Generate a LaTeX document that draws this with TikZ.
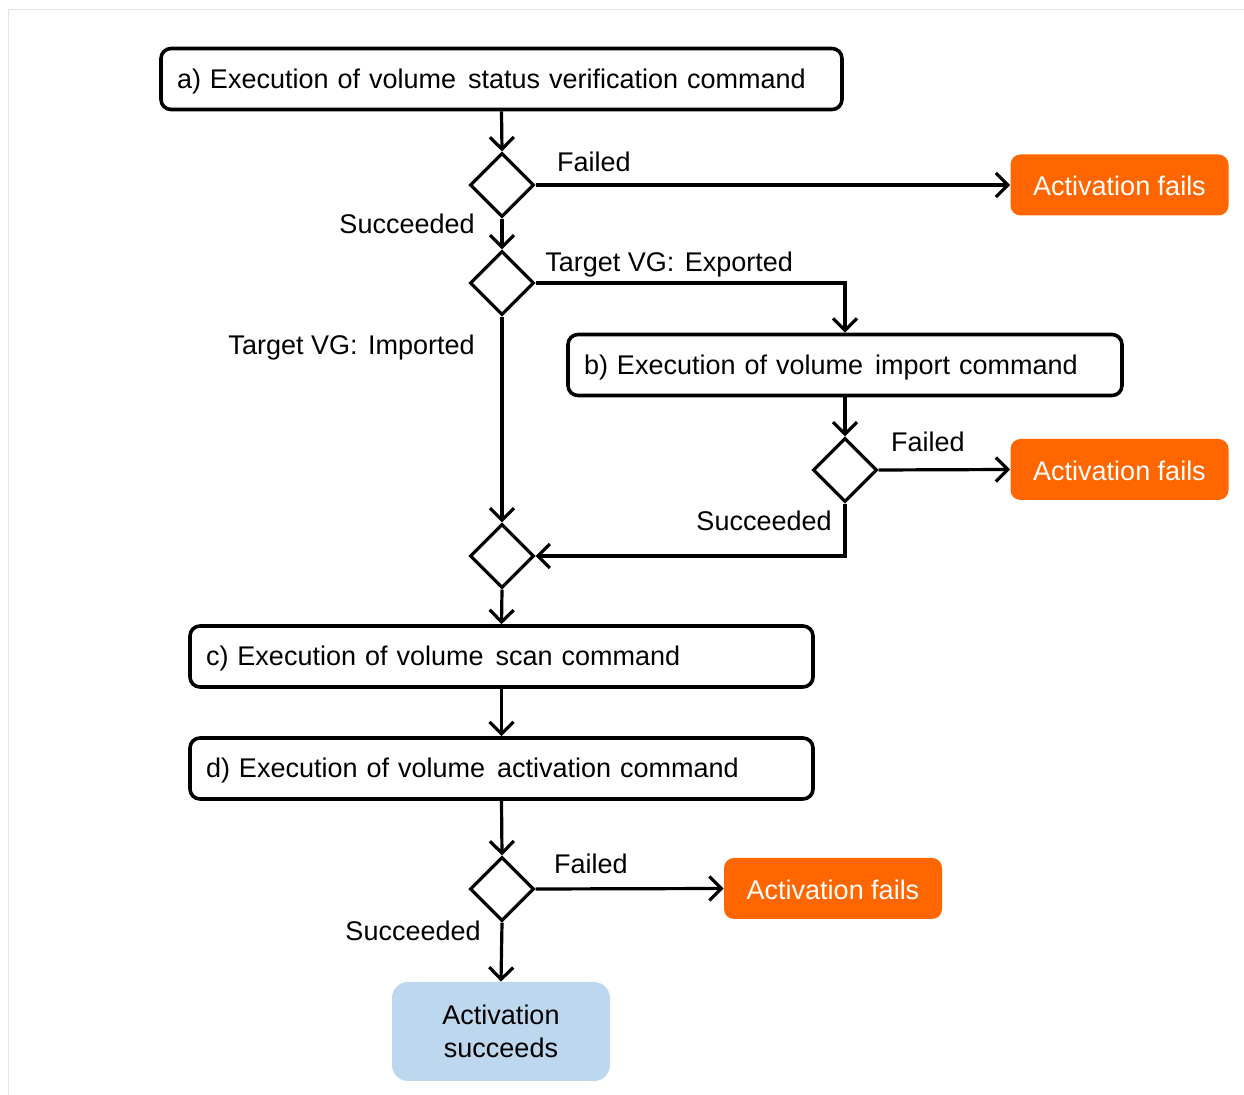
\documentclass[tikz,border=0pt]{standalone}
\usepackage{fontspec}
\setmainfont{Liberation Sans}
\usetikzlibrary{arrows.meta,shapes.geometric}
\definecolor{actfail}{HTML}{FF6600}
\definecolor{actok}{HTML}{BDD7EE}
\definecolor{frame}{HTML}{E3E3E3}
\newcommand{\wsp}{\ \hspace{1.5pt}}
\begin{document}
\begin{tikzpicture}[x=0.5pt,y=-0.5pt,
  every node/.style={font=\fontsize{13.5}{16.5}\selectfont},
  cmd/.style={draw, line width=1.8pt, rounded corners=5pt, minimum height=30.5pt, inner xsep=8pt, inner ysep=0pt, align=left, text height=9.5pt, text depth=0pt},
  dec/.style={draw, diamond, line width=1.6pt, minimum width=32pt, minimum height=32pt, inner sep=0pt, aspect=1},
  fail/.style={fill=actfail, text=white, rounded corners=5pt, minimum width=109pt, minimum height=30.5pt, inner sep=0pt, text height=11pt, text depth=0pt},
  okbox/.style={fill=actok, rounded corners=8pt, minimum width=109pt, minimum height=49.5pt, inner sep=0pt, align=center},
  flow/.style={line width=1.6pt, -{Straight Barb[length=6pt,width=12pt,line width=1.6pt]}},
  lbl/.style={inner sep=0pt}
]
\useasboundingbox (0,0) rectangle (1244,1095);
\draw[frame, line width=0.5pt] (8,1095) -- (8,10) -- (1244,10);

\node[cmd, text width=324.5pt] (a) at (501.5,79) {a) Execution of volume\wsp status verification command};
\node[dec] (d1) at (502,185) {};
\node[fail] (f1) at (1119.5,185) {Activation fails};
\node[dec] (d2) at (502,283) {};
\node[cmd, text width=261pt] (b) at (845,365) {b) Execution of volume\wsp import command};
\node[dec] (d3) at (845,470) {};
\node[fail] (f2) at (1119.5,469.5) {Activation fails};
\node[dec] (d4) at (502,556) {};
\node[cmd, text width=295.5pt] (c) at (501.5,656.5) {c) Execution of volume\wsp scan command};
\node[cmd, text width=295.5pt] (dd) at (501.5,768.5) {d) Execution of volume\wsp activation command};
\node[dec] (d5) at (502,889) {};
\node[fail] (f3) at (833,888.5) {Activation fails};
\node[okbox] (ok) at (501,1031.5) {Activation\\succeeds};

\node[lbl, anchor=base] (l1) at (594,172) {Failed};
\node[lbl, anchor=base east] (l2) at (475,234) {Succeeded};
\node[lbl, anchor=base west] (l3) at (545,272) {Target VG:\wsp Exported};
\node[lbl, anchor=base east] (l4) at (475,355) {Target VG:\wsp Imported};
\node[lbl, anchor=base] (l5) at (928,452) {Failed};
\node[lbl, anchor=base east] (l6) at (832,531) {Succeeded};
\node[lbl, anchor=base] (l7) at (591,874) {Failed};
\node[lbl, anchor=base east] (l8) at (481,941) {Succeeded};

\draw[flow] (a.south) -- (d1.north);
\draw[flow] (d1.east) -- (f1.west);
\draw[flow] (d1.south) -- (d2.north);
\draw[flow] (d2.east) -| (b.north);
\draw[flow] (d2.south) -- (d4.north);
\draw[flow] (b.south) -- (d3.north);
\draw[flow] (d3.east) -- (f2.west);
\draw[flow] (d3.south) |- (d4.east);
\draw[flow] (d4.south) -- (c.north);
\draw[flow] (c.south) -- (dd.north);
\draw[flow] (dd.south) -- (d5.north);
\draw[flow] (d5.east) -- (f3.west);
\draw[flow] (d5.south) -- (ok.north);
\end{tikzpicture}
\end{document}
